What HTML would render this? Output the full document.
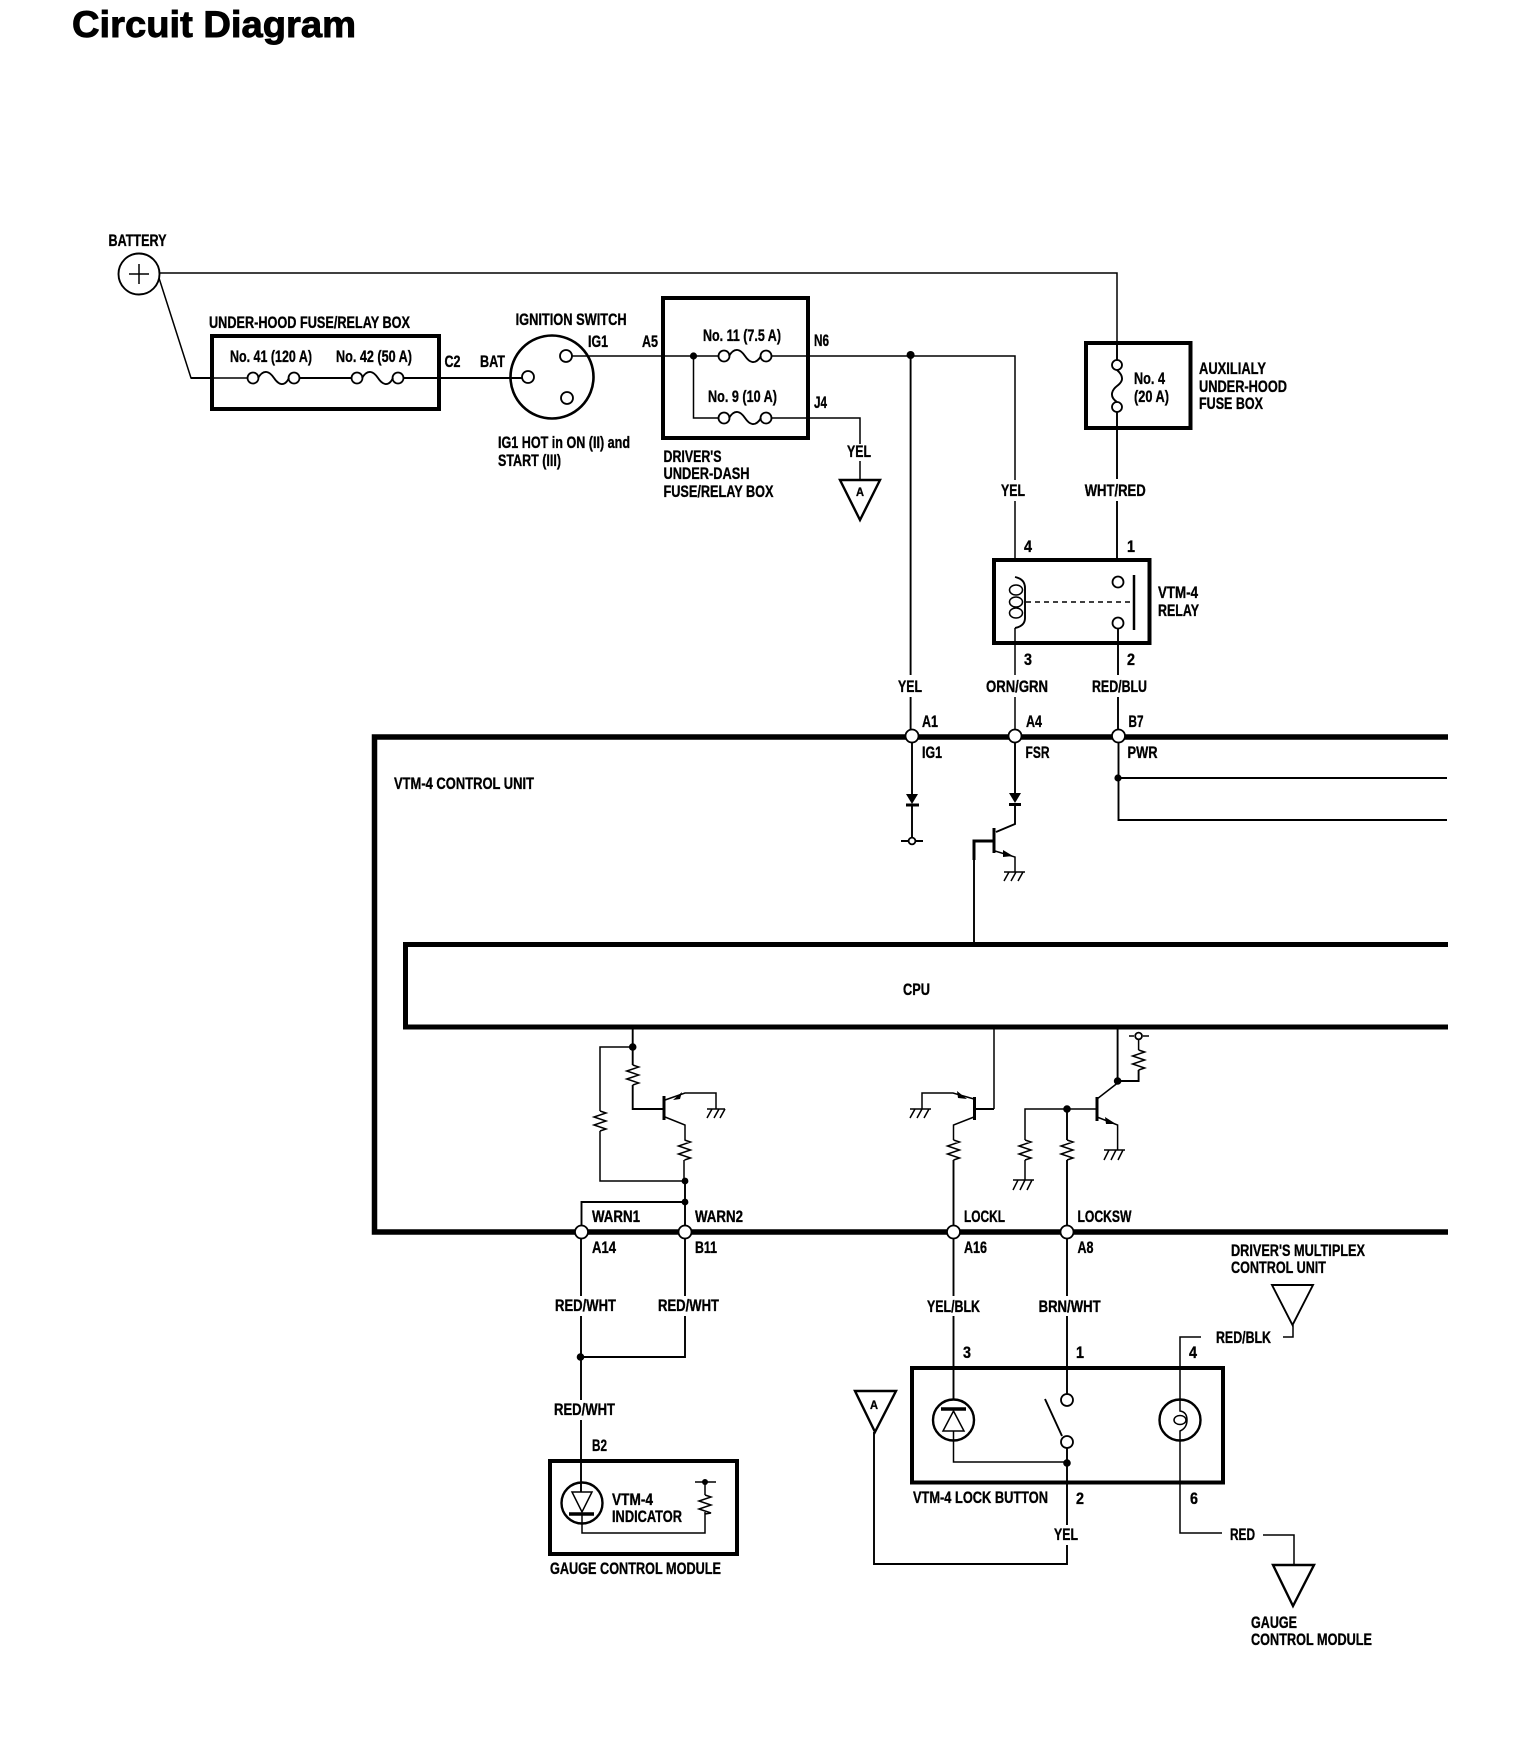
<!DOCTYPE html>
<html lang="en">
<head>
<meta charset="utf-8">
<title>Circuit Diagram</title>
<style>
html,body{margin:0;padding:0;background:#fff}
svg{display:block}
text{font-family:"Liberation Sans",sans-serif;font-weight:bold;font-size:17px;fill:#000;stroke:#000;stroke-width:.35}
.w{fill:none;stroke:#000;stroke-width:1.5}
.m{fill:none;stroke:#000;stroke-width:1.9}
.b{fill:none;stroke:#000;stroke-width:5}
.t{fill:none;stroke:#000;stroke-width:3}
.n{fill:#fff;stroke:#000;stroke-width:1.8}
.d{fill:#000;stroke:none}
</style>
</head>
<body>
<svg xmlns="http://www.w3.org/2000/svg" width="1536" height="1748" viewBox="0 0 1536 1748">
<rect width="1536" height="1748" fill="#fff"/>
<text x="72" y="37" style="font-size:37px;stroke-width:.9" textLength="284" lengthAdjust="spacingAndGlyphs">Circuit Diagram</text>

<!-- wires top -->
<path class="w" d="M160 273H1117V343"/>
<path class="w" d="M159 278L191 378H253"/>
<path class="m" d="M191 378H212M299 378H352M403 378H528"/>
<path class="w" d="M571 356H719M771 356H1015V560"/>
<path class="w" d="M693.5 356V418H719M771 418H860V479"/>
<path class="m" d="M910.6 355V736"/>
<path class="m" d="M1117 343V360M1117 412V560"/>

<!-- battery -->
<circle class="m" cx="139" cy="274" r="20.5"/>
<path class="w" d="M129 274H149M139 264V284"/>

<!-- under-hood box -->
<rect class="t" x="212" y="336" width="227" height="73" style="stroke-width:4"/>
<circle class="n" cx="253" cy="378" r="5.5"/>
<circle class="n" cx="294" cy="378" r="5.5"/>
<path class="m" d="M258 378C264 368 270 372 274 378S284 388 289 378"/>
<circle class="n" cx="357" cy="378" r="5.5"/>
<circle class="n" cx="398" cy="378" r="5.5"/>
<path class="m" d="M362 378C368 368 374 372 378 378S388 388 393 378"/>

<!-- ignition switch -->
<circle class="m" cx="552" cy="377" r="41.5" style="stroke-width:2.6"/>
<circle class="n" cx="528" cy="377" r="6"/>
<circle class="n" cx="566" cy="356" r="6"/>
<circle class="n" cx="567" cy="398" r="6"/>

<!-- driver's box -->
<rect class="t" x="663" y="298" width="145" height="140" style="stroke-width:4"/>
<circle class="d" cx="693.5" cy="356" r="3.6"/>
<circle class="n" cx="724" cy="356" r="5.5"/>
<circle class="n" cx="766" cy="356" r="5.5"/>
<path class="m" d="M729 356C735 346 741 350 745 356S755 366 761 356"/>
<circle class="n" cx="724" cy="418" r="5.5"/>
<circle class="n" cx="766" cy="418" r="5.5"/>
<path class="m" d="M729 418C735 408 741 412 745 418S755 428 761 418"/>
<circle class="d" cx="910.6" cy="355" r="4"/>

<!-- triangle A top -->
<path class="m" d="M840 480H880L860 520Z" style="stroke-width:2.4"/>

<!-- aux fuse box -->
<rect class="t" x="1086" y="343" width="104.5" height="85" style="stroke-width:4"/>
<circle class="n" cx="1117" cy="365" r="5"/>
<circle class="n" cx="1117" cy="407" r="5"/>
<path class="m" d="M1117 370C1126 378 1121 383 1117 386S1108 396 1117 402"/>

<!-- relay -->
<rect class="t" x="994" y="560" width="155.5" height="83" style="stroke-width:4"/>
<path class="m" d="M1015 577Q1025 579 1025 588V618Q1025 626 1015 628"/>
<ellipse class="w" cx="1016" cy="590" rx="6.5" ry="5"/>
<ellipse class="w" cx="1016" cy="602" rx="6.5" ry="5"/>
<ellipse class="w" cx="1016" cy="613" rx="6.5" ry="5"/>
<path class="w" d="M1026 602H1134" stroke-dasharray="5 4"/>
<circle class="n" cx="1118" cy="582" r="5.5"/>
<circle class="n" cx="1118" cy="623" r="5.5"/>
<path class="t" d="M1134 575V630" style="stroke-width:2.5"/>
<path class="w" d="M1015 628V736"/>
<path class="m" d="M1118 628V736"/>

<!-- control unit outline -->
<path class="b" d="M1448 737H374.5V1232H1448" style="stroke-width:5.5"/>
<path class="b" d="M1448 944.5H405.5V1027H1448"/>

<!-- top nodes -->
<circle class="n" cx="912" cy="736" r="6.5"/>
<circle class="n" cx="1015" cy="736" r="6.5"/>
<circle class="n" cx="1118.5" cy="736" r="6.5"/>
<path class="m" d="M912 743V794M1015 743V793M1118.5 743V820H1447M1118.5 778H1447"/>
<circle class="d" cx="1118" cy="778" r="3.6"/>

<!-- diode 1 -->
<path class="d" d="M906 794H918L912 804Z"/>
<path class="t" d="M906 805H919"/>
<path class="m" d="M912 805V837M901 841H908M916 841H923"/>
<circle class="n" cx="912" cy="841" r="3.4"/>

<!-- diode 2 + transistor -->
<path class="d" d="M1009 793H1021L1015 803Z"/>
<path class="t" d="M1009 804.5H1021"/>
<path class="m" d="M1015 804V824L996 832"/>
<path class="t" d="M994 828V853"/>
<path class="t" d="M994 841H974V860"/>
<path class="m" d="M974 860V944"/>
<path class="w" d="M995 851L1015 857V872M1004 872H1025M1009 872L1004 881M1016 872L1011 881M1023 872L1018 881"/>
<path class="d" d="M1003 850L1013 856L1003 857Z"/>

<!-- warn transistor section -->
<path class="m" d="M632.7 1027V1065M632.7 1085V1109H664"/>
<circle class="d" cx="632.7" cy="1047" r="3.8"/>
<path class="w" d="M632.7 1047H600V1111M600 1131V1181H685"/>
<path class="w" d="M632.7 1065l6 2l-12 4l12 4l-12 4l12 4l-6 2"/>
<path class="w" d="M600 1111l6 2l-12 4l12 4l-12 4l12 4l-6 2"/>
<path class="t" d="M664 1096V1120"/>
<path class="w" d="M665 1100L685 1093H716V1109M707 1109H725M712 1109L707 1118M719 1109L714 1118M725 1109L720 1118"/>
<path class="d" d="M673 1100L682 1092L680 1099Z"/>
<path class="w" d="M665 1117L685 1125V1140M684 1160V1181"/>
<path class="w" d="M684.5 1140l6 2l-12 4l12 4l-12 4l12 4l-6 2"/>
<path class="m" d="M685 1181V1232M685 1202H581.5V1232"/>
<circle class="d" cx="685" cy="1181" r="3.4"/>
<circle class="d" cx="685" cy="1202" r="3.4"/>

<!-- lock L transistor -->
<path class="w" d="M994 1027V1109"/>
<path class="m" d="M994 1109H974"/>
<path class="t" d="M974.5 1097V1120"/>
<path class="w" d="M974 1099L953 1093H922V1109M910 1109H931M915 1109L910 1118M922 1109L917 1118M929 1109L924 1118"/>
<path class="d" d="M967 1099L957 1091L958 1098Z"/>
<path class="w" d="M974 1117L953.5 1125V1140"/>
<path class="w" d="M953.5 1140l6 2l-12 4l12 4l-12 4l12 4l-6 2"/>
<path class="m" d="M953.5 1160V1232"/>

<!-- lock sw transistor -->
<path class="m" d="M1117.6 1027V1081H1138.6V1070"/>
<circle class="d" cx="1117.6" cy="1081" r="3.8"/>
<path class="w" d="M1138.6 1050l6 2l-12 4l12 4l-12 4l12 4l-6 2"/>
<path class="w" d="M1138.6 1050V1040M1129 1036H1134M1143 1036H1149"/>
<circle class="n" cx="1138.6" cy="1036" r="3.4"/>
<path class="w" d="M1117.6 1083L1097 1099"/>
<path class="t" d="M1097 1097V1121"/>
<path class="w" d="M1097 1109H1025V1140M1025 1160V1180M1013 1180H1034M1018 1180L1013 1190M1025 1180L1020 1190M1032 1180L1027 1190"/>
<path class="w" d="M1025 1140l6 2l-12 4l12 4l-12 4l12 4l-6 2"/>
<circle class="d" cx="1067" cy="1109" r="3.8"/>
<path class="m" d="M1067 1109V1140M1067 1160V1232"/>
<path class="w" d="M1067 1140l6 2l-12 4l12 4l-12 4l12 4l-6 2"/>
<path class="w" d="M1097 1117L1117.6 1125V1150M1104 1150H1125M1109 1150L1104 1160M1116 1150L1111 1160M1123 1150L1118 1160"/>
<path class="d" d="M1105 1117L1116 1124L1106 1124Z"/>

<!-- bottom nodes -->
<circle class="n" cx="581.5" cy="1232" r="6.5"/>
<circle class="n" cx="685" cy="1232" r="6.5"/>
<circle class="n" cx="953.5" cy="1232" r="6.5"/>
<circle class="n" cx="1067" cy="1232" r="6.5"/>

<!-- lower wires -->
<path class="m" d="M581 1239V1461M685 1239V1357H581"/>
<circle class="d" cx="580.5" cy="1357" r="3.8"/>
<path class="m" d="M953.5 1239V1400M1067 1239V1394"/>

<!-- gauge box -->
<rect class="t" x="550" y="1461" width="187" height="93" style="stroke-width:4"/>
<circle class="m" cx="582" cy="1503" r="20.5" style="stroke-width:2.4"/>
<path class="m" d="M581 1461V1492"/>
<path class="w" d="M572 1492H592L582 1512Z"/>
<path class="t" d="M569 1514H594" style="stroke-width:3.5"/>
<path class="w" d="M582 1514V1533H705V1512M705 1495V1482M695 1482H716"/>
<path class="w" d="M705 1495l6 2l-12 4l12 4l-12 4l12 4l-6 1"/>
<circle class="d" cx="705" cy="1482" r="3"/>

<!-- lock button box -->
<rect class="t" x="912" y="1368" width="311" height="114.5" style="stroke-width:4"/>
<circle class="m" cx="953.5" cy="1420" r="20.5" style="stroke-width:2.4"/>
<path class="t" d="M941 1409H966" style="stroke-width:3.5"/>
<path class="w" d="M953.5 1411L964 1431H943Z"/>
<path class="w" d="M953.5 1431V1462H1067"/>
<circle class="n" cx="1067" cy="1400" r="6"/>
<circle class="n" cx="1067" cy="1442" r="6"/>
<path class="m" d="M1045 1399L1062 1436"/>
<path class="m" d="M1067 1448V1564H874V1432"/>
<circle class="d" cx="1067" cy="1463" r="3.8"/>
<circle class="m" cx="1180" cy="1420" r="20.5" style="stroke-width:2.4"/>
<ellipse class="w" cx="1180" cy="1420" rx="6" ry="4.5"/>
<path class="w" d="M1201 1337H1180V1411Q1187 1412 1187 1420T1180 1431V1533H1222"/>
<path class="w" d="M1263 1535H1294V1565"/>
<path class="w" d="M1283 1337H1293V1325"/>

<!-- triangles -->
<path class="m" d="M855 1391H896L875 1432Z" style="stroke-width:2.4"/>
<path class="m" d="M1272 1285H1313L1292.5 1325Z"/>
<path class="m" d="M1273 1565H1314L1293 1606Z" style="stroke-width:2.4"/>

<!-- wire gaps behind labels -->
<g fill="#fff">
<rect x="845" y="444" width="30" height="17"/>
<rect x="999" y="480" width="30" height="21"/>
<rect x="1083" y="479" width="65" height="22"/>
<rect x="896" y="675" width="30" height="22"/>
<rect x="984" y="675" width="66" height="22"/>
<rect x="1090" y="675" width="60" height="22"/>
<rect x="550" y="1296" width="72" height="20"/>
<rect x="654" y="1296" width="70" height="20"/>
<rect x="550" y="1400" width="70" height="20"/>
<rect x="924" y="1296" width="60" height="20"/>
<rect x="1035" y="1296" width="68" height="20"/>
<rect x="1052" y="1525" width="28" height="20"/>
</g>

<!-- labels -->
<g transform="translate(0,-0.8)">
<text x="108.5" y="247" textLength="58" lengthAdjust="spacingAndGlyphs">BATTERY</text>
<text x="209" y="329" textLength="201" lengthAdjust="spacingAndGlyphs">UNDER-HOOD FUSE/RELAY BOX</text>
<text x="230" y="363" textLength="82" lengthAdjust="spacingAndGlyphs">No. 41 (120 A)</text>
<text x="336" y="363" textLength="76" lengthAdjust="spacingAndGlyphs">No. 42 (50 A)</text>
<text x="444.5" y="368" textLength="16" lengthAdjust="spacingAndGlyphs">C2</text>
<text x="480" y="368" textLength="25" lengthAdjust="spacingAndGlyphs">BAT</text>
<text x="515.6" y="326" textLength="111" lengthAdjust="spacingAndGlyphs">IGNITION SWITCH</text>
<text x="588" y="348" textLength="20" lengthAdjust="spacingAndGlyphs">IG1</text>
<text x="642" y="348" textLength="16" lengthAdjust="spacingAndGlyphs">A5</text>
<text x="703" y="342" textLength="78" lengthAdjust="spacingAndGlyphs">No. 11 (7.5 A)</text>
<text x="708" y="403" textLength="69" lengthAdjust="spacingAndGlyphs">No. 9 (10 A)</text>
<text x="814" y="347" textLength="15" lengthAdjust="spacingAndGlyphs">N6</text>
<text x="814" y="409" textLength="13" lengthAdjust="spacingAndGlyphs">J4</text>
<text x="498" y="449" textLength="132" lengthAdjust="spacingAndGlyphs">IG1 HOT in ON (II) and</text>
<text x="498" y="467" textLength="63" lengthAdjust="spacingAndGlyphs">START (III)</text>
<text x="663.5" y="463" textLength="58" lengthAdjust="spacingAndGlyphs">DRIVER'S</text>
<text x="663.5" y="480" textLength="86" lengthAdjust="spacingAndGlyphs">UNDER-DASH</text>
<text x="663.5" y="498" textLength="110" lengthAdjust="spacingAndGlyphs">FUSE/RELAY BOX</text>
<text x="847" y="458" textLength="24" lengthAdjust="spacingAndGlyphs">YEL</text>
<text x="856" y="497" style="font-size:12px" textLength="8" lengthAdjust="spacingAndGlyphs">A</text>
<text x="1001" y="497" textLength="24" lengthAdjust="spacingAndGlyphs">YEL</text>
<text x="1084.7" y="497" textLength="61" lengthAdjust="spacingAndGlyphs">WHT/RED</text>
<text x="1134" y="385" textLength="31" lengthAdjust="spacingAndGlyphs">No. 4</text>
<text x="1134" y="403" textLength="35" lengthAdjust="spacingAndGlyphs">(20 A)</text>
<text x="1199" y="375" textLength="67" lengthAdjust="spacingAndGlyphs">AUXILIALY</text>
<text x="1199" y="393" textLength="88" lengthAdjust="spacingAndGlyphs">UNDER-HOOD</text>
<text x="1199" y="410" textLength="64" lengthAdjust="spacingAndGlyphs">FUSE BOX</text>
<text x="1024" y="553" textLength="8" lengthAdjust="spacingAndGlyphs">4</text>
<text x="1127" y="553" textLength="8" lengthAdjust="spacingAndGlyphs">1</text>
<text x="1024" y="666" textLength="8" lengthAdjust="spacingAndGlyphs">3</text>
<text x="1127" y="666" textLength="8" lengthAdjust="spacingAndGlyphs">2</text>
<text x="1158" y="599" textLength="40" lengthAdjust="spacingAndGlyphs">VTM-4</text>
<text x="1158" y="617" textLength="41" lengthAdjust="spacingAndGlyphs">RELAY</text>
<text x="898" y="693" textLength="24" lengthAdjust="spacingAndGlyphs">YEL</text>
<text x="986" y="693" textLength="62" lengthAdjust="spacingAndGlyphs">ORN/GRN</text>
<text x="1092" y="693" textLength="55" lengthAdjust="spacingAndGlyphs">RED/BLU</text>
<text x="922" y="728" textLength="16" lengthAdjust="spacingAndGlyphs">A1</text>
<text x="1026" y="728" textLength="16" lengthAdjust="spacingAndGlyphs">A4</text>
<text x="1128.5" y="728" textLength="15" lengthAdjust="spacingAndGlyphs">B7</text>
<text x="922" y="759" textLength="20" lengthAdjust="spacingAndGlyphs">IG1</text>
<text x="1025.5" y="759" textLength="24" lengthAdjust="spacingAndGlyphs">FSR</text>
<text x="1127.5" y="759" textLength="30" lengthAdjust="spacingAndGlyphs">PWR</text>
<text x="394" y="790" textLength="140" lengthAdjust="spacingAndGlyphs">VTM-4 CONTROL UNIT</text>
<text x="903" y="996" textLength="27" lengthAdjust="spacingAndGlyphs">CPU</text>
<text x="592" y="1223" textLength="48" lengthAdjust="spacingAndGlyphs">WARN1</text>
<text x="695" y="1223" textLength="48" lengthAdjust="spacingAndGlyphs">WARN2</text>
<text x="592" y="1254" textLength="24" lengthAdjust="spacingAndGlyphs">A14</text>
<text x="695" y="1254" textLength="22" lengthAdjust="spacingAndGlyphs">B11</text>
<text x="964" y="1223" textLength="41" lengthAdjust="spacingAndGlyphs">LOCKL</text>
<text x="1077.5" y="1223" textLength="54" lengthAdjust="spacingAndGlyphs">LOCKSW</text>
<text x="964" y="1254" textLength="23" lengthAdjust="spacingAndGlyphs">A16</text>
<text x="1077.5" y="1254" textLength="16" lengthAdjust="spacingAndGlyphs">A8</text>
<text x="1231" y="1257" textLength="134" lengthAdjust="spacingAndGlyphs">DRIVER'S MULTIPLEX</text>
<text x="1231" y="1274" textLength="95" lengthAdjust="spacingAndGlyphs">CONTROL UNIT</text>
<text x="555" y="1312" textLength="61" lengthAdjust="spacingAndGlyphs">RED/WHT</text>
<text x="658" y="1312" textLength="61" lengthAdjust="spacingAndGlyphs">RED/WHT</text>
<text x="554" y="1416" textLength="61" lengthAdjust="spacingAndGlyphs">RED/WHT</text>
<text x="927" y="1313" textLength="53" lengthAdjust="spacingAndGlyphs">YEL/BLK</text>
<text x="1038.6" y="1313" textLength="62" lengthAdjust="spacingAndGlyphs">BRN/WHT</text>
<text x="1216" y="1344" textLength="55" lengthAdjust="spacingAndGlyphs">RED/BLK</text>
<text x="963" y="1359" textLength="8" lengthAdjust="spacingAndGlyphs">3</text>
<text x="1076" y="1359" textLength="8" lengthAdjust="spacingAndGlyphs">1</text>
<text x="1189" y="1359" textLength="8" lengthAdjust="spacingAndGlyphs">4</text>
<text x="1076" y="1505" textLength="8" lengthAdjust="spacingAndGlyphs">2</text>
<text x="1190" y="1505" textLength="8" lengthAdjust="spacingAndGlyphs">6</text>
<text x="913" y="1504" textLength="135" lengthAdjust="spacingAndGlyphs">VTM-4 LOCK BUTTON</text>
<text x="1054" y="1541" textLength="24" lengthAdjust="spacingAndGlyphs">YEL</text>
<text x="1230" y="1541" textLength="25" lengthAdjust="spacingAndGlyphs">RED</text>
<text x="1251" y="1629" textLength="46" lengthAdjust="spacingAndGlyphs">GAUGE</text>
<text x="1251" y="1646" textLength="121" lengthAdjust="spacingAndGlyphs">CONTROL MODULE</text>
<text x="592" y="1452" textLength="15" lengthAdjust="spacingAndGlyphs">B2</text>
<text x="612" y="1506" textLength="41" lengthAdjust="spacingAndGlyphs">VTM-4</text>
<text x="612" y="1523" textLength="70" lengthAdjust="spacingAndGlyphs">INDICATOR</text>
<text x="550" y="1575" textLength="171" lengthAdjust="spacingAndGlyphs">GAUGE CONTROL MODULE</text>
<text x="870" y="1410" style="font-size:12px" textLength="8" lengthAdjust="spacingAndGlyphs">A</text>
</g>
</svg>
</body>
</html>
